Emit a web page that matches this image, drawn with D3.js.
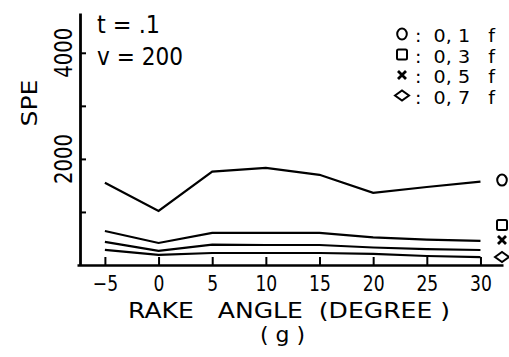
<!DOCTYPE html>
<html>
<head>
<meta charset="utf-8">
<script src="https://cdn.jsdelivr.net/npm/d3@7"></script>
<style>
  body { margin: 0; background: #fff; }
  text { font-family: "DejaVu Sans", sans-serif; fill: #000; white-space: pre; }
</style>
</head>
<body>
<div id="graph"></div>
<script>
// data
var angles = [-5, 0, 5, 10, 15, 20, 25, 30];
var spe01 = [1550, 1020, 1760, 1830, 1700, 1360, 1470, 1570];
var spe03 = [640, 415, 605, 605, 605, 520, 480, 455];
var spe05 = [435, 265, 385, 377, 377, 330, 300, 283];
var spe07 = [285, 190, 226, 226, 226, 208, 170, 150];
var seriesNames = ["0, 1", "0, 3", "0, 5", "0, 7"];
var endMarkerSpe = [1600, 755, 470, 150];
var xTicks = [-5, 0, 5, 10, 15, 20, 25, 30];
var yTicks = [1000, 2000, 3000, 4000];
var yLabels = [2000, 4000];

var series = [spe01, spe03, spe05, spe07];

var width = 509, height = 357;

// set the ranges
var x = d3.scaleLinear().domain([-7.6, 32.1]).range([77, 503]);
var y = d3.scaleLinear().domain([0, 4750]).range([265, 13]);

var svg = d3.select("#graph").append("svg")
    .attr("width", width)
    .attr("height", height);

// X axis, ticks pointing up
var gx = svg.append("g")
    .attr("transform", "translate(0," + y(0) + ")")
    .call(d3.axisBottom(x).tickValues(xTicks).tickSizeInner(-8).tickSizeOuter(0).tickPadding(10));
gx.select(".domain").attr("stroke-width", 2.5);
gx.selectAll(".tick line").attr("stroke-width", 2);
gx.selectAll(".tick text")
    .attr("font-family", null)
    .style("font-size", "22px")
    .attr("transform", "scale(0.78,1)");

// Y axis, ticks pointing right
var gy = svg.append("g")
    .attr("transform", "translate(80,0)")
    .call(d3.axisLeft(y).tickValues(yTicks).tickSizeInner(-6).tickSizeOuter(0).tickFormat(""));
gy.select(".domain").attr("stroke-width", 2.8);
gy.selectAll(".tick line").attr("stroke-width", 2);

// rotated y labels
svg.selectAll(".ylab")
    .data(yLabels)
    .enter().append("text")
    .attr("class", "ylab")
    .attr("transform", d => "translate(72," + y(d) + ") rotate(-90)")
    .attr("text-anchor", "middle")
    .attr("textLength", 50)
    .attr("lengthAdjust", "spacingAndGlyphs")
    .style("font-size", "25px")
    .text(d => d);

// lines
var line = d3.line()
    .x((d, i) => x(angles[i]))
    .y(d => y(d));

svg.selectAll(".serie")
    .data(series)
    .enter().append("path")
    .attr("class", "serie")
    .attr("d", line)
    .attr("fill", "none")
    .attr("stroke", "#000")
    .attr("stroke-width", 2.2);

// open symbols: circle, square, cross, diamond
function drawSymbol(g, i, s) {
    var sw = 2;
    if (i === 0) {
        g.append("ellipse").attr("rx", 4.8 * s).attr("ry", 5.5 * s);
    } else if (i === 1) {
        g.append("rect").attr("x", -5 * s).attr("y", -5 * s)
            .attr("width", 10 * s).attr("height", 10 * s).attr("rx", 1.5);
    } else if (i === 2) {
        sw = 2.8;
        g.append("path").attr("d", "M-4,-4L4,4M-4,4L4,-4")
            .attr("transform", "scale(" + s + ")");
    } else {
        g.append("path").attr("d", "M-7,0L0,-5L7,0L0,5Z")
            .attr("transform", "scale(" + s + ")");
    }
    g.selectAll("*").attr("fill", "none").attr("stroke", "#000")
        .attr("stroke-width", sw / (i >= 2 ? s : 1));
}

endMarkerSpe.forEach((v, i) => {
    var g = svg.append("g").attr("transform", "translate(502," + y(v) + ")");
    drawSymbol(g, i, 1);
});

// legend
seriesNames.forEach((name, i) => {
    var cy = 34 + i * 20.5;
    var g = svg.append("g").attr("transform", "translate(402," + cy + ")");
    drawSymbol(g, i, 1);
    svg.append("text").attr("x", 415).attr("y", cy + 8)
        .attr("textLength", 80).attr("lengthAdjust", "spacingAndGlyphs")
        .style("font-size", "17.5px").text(":  " + name + "   f");
});

// annotations
svg.append("text").attr("x", 97).attr("y", 33)
    .attr("textLength", 63).attr("lengthAdjust", "spacingAndGlyphs")
    .style("font-size", "24px").text("t = .1");
svg.append("text").attr("x", 97).attr("y", 65)
    .attr("textLength", 86).attr("lengthAdjust", "spacingAndGlyphs")
    .style("font-size", "25px").text("v = 200");

// axis titles
svg.append("text").attr("x", 128).attr("y", 318)
    .attr("textLength", 322).attr("lengthAdjust", "spacingAndGlyphs")
    .style("font-size", "22px").text("RAKE   ANGLE  (DEGREE )");
svg.append("text").attr("x", 260).attr("y", 342)
    .attr("textLength", 45).attr("lengthAdjust", "spacingAndGlyphs")
    .style("font-size", "21px").text("( g )");
svg.append("text")
    .attr("transform", "translate(37,103) rotate(-90)")
    .attr("text-anchor", "middle")
    .attr("textLength", 47).attr("lengthAdjust", "spacingAndGlyphs")
    .style("font-size", "21px").text("SPE");
</script>
</body>
</html>
